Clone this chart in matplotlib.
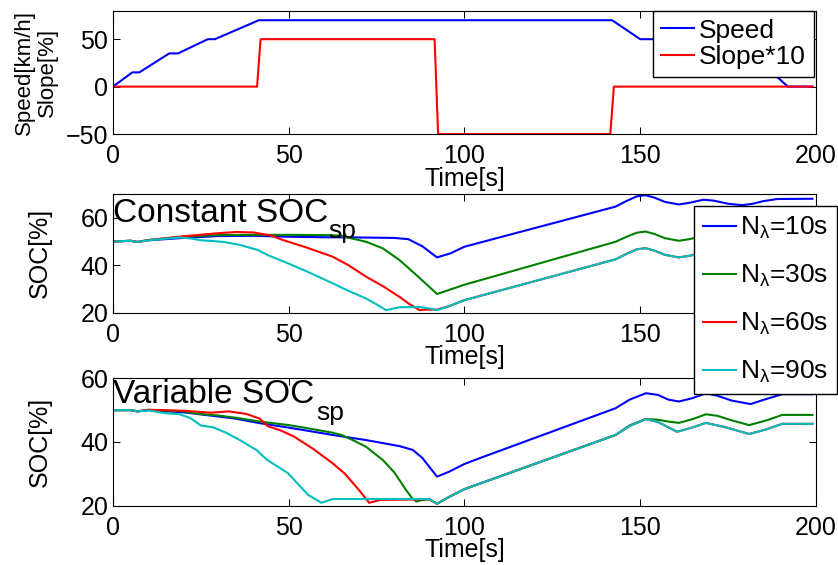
import matplotlib
matplotlib.use('Agg')
import matplotlib.pyplot as plt

plt.rcParams['font.family'] = ['Liberation Sans', 'DejaVu Sans']
plt.rcParams['mathtext.fontset'] = 'custom'
plt.rcParams['mathtext.rm'] = 'Liberation Sans'
plt.rcParams['mathtext.it'] = 'Liberation Sans'
plt.rcParams['mathtext.bf'] = 'Liberation Sans:bold'

# ---- drive cycle ----
t_speed = [0, 5.5, 7.5, 16, 18.5, 27, 29, 41.5, 142, 150, 177, 192, 199]
speed = [0, 15, 15, 35, 35, 50, 50, 70, 70, 50, 50, 0, 0]
t_slope = [0, 41, 42, 91.5, 92.5, 141.5, 142.5, 199]
slope10 = [0, 0, 50, 50, -50, -50, 0, 0]

# ---- constant SOC setpoint ----
t_c10 = [0, 5, 7, 10, 20, 30, 40, 50, 60, 70, 80, 84, 88, 92.2, 96, 100, 143,
         146, 149, 151.5, 154, 157, 161, 164, 168, 171, 175, 179, 182, 185, 189, 199]
soc_c10 = [50, 50.3, 49.8, 50.5, 51.5, 52.3, 52.4, 52, 51.8, 51.7, 51.5, 51, 48, 43.3, 45, 47.8, 64.7,
           67, 69, 69.5, 68.5, 66.7, 65.6, 66.3, 67.6, 67.2, 65.9, 65.3, 65.9, 67, 67.9, 68]
t_c30 = [0, 5, 7, 10, 20, 30, 40, 50, 60, 65, 67.3, 72, 76.8, 81.5, 86.3, 92.2, 96, 100, 143,
         146, 149, 151.5, 154, 157, 161, 164, 168, 171, 175, 179, 182, 185, 189, 199]
soc_c30 = [50, 50.3, 49.8, 50.6, 52, 52.7, 52.8, 52.8, 52.7, 52.5, 51.5, 49.9, 47.1, 42.2, 35.9, 27.9, 29.8, 31.8, 49.9,
           51.9, 53.7, 54.2, 53.2, 51.4, 50.3, 51, 52.3, 51.9, 50.6, 50, 50.6, 51.7, 52.6, 52.7]
t_c60 = [0, 5, 7, 10, 20, 30, 35, 40, 45, 48.4, 55, 62.5, 67, 72, 77, 81.5, 84, 87.2, 89, 92.2, 95.7, 100, 143,
         146, 149, 151.5, 154, 157, 161, 164, 168, 171, 175, 179, 182, 185, 189, 199]
soc_c60 = [50, 50.3, 49.8, 50.6, 52.2, 53.5, 54, 53.8, 52.5, 50.6, 47.5, 43.6, 40, 35.2, 31, 26.7, 24, 21.1, 21.3, 21.3, 22.8, 25.3, 42.5,
           44.7, 46.7, 47.2, 46.2, 44.4, 43.3, 44, 45.3, 44.9, 43.6, 43, 43.6, 44.7, 45.6, 45.7]
t_c90 = [0, 5, 7, 10, 15, 19, 22, 25, 28.5, 32, 36, 41.3, 44, 49.8, 55, 62.5, 67, 72, 75, 77.7, 81.5, 87.2, 90, 92.2, 95.7, 100, 143,
         146, 149, 151.5, 154, 157, 161, 164, 168, 171, 175, 179, 182, 185, 189, 199]
soc_c90 = [50, 50.3, 49.8, 50.5, 51.2, 51.7, 51.3, 50.5, 50.2, 49.7, 48.6, 46.4, 44.3, 40.8, 37.5, 32.4, 29.2, 26, 23.5, 21.1, 22.3, 22.4, 21.8, 21.1, 22.8, 25.3, 42.5,
           44.7, 46.7, 47.2, 46.2, 44.4, 43.3, 44, 45.3, 44.9, 43.6, 43, 43.6, 44.7, 45.6, 45.7]

# ---- variable SOC setpoint ----
t_v10 = [0, 5, 7, 10, 20, 30, 35, 41.8, 50, 55, 62.5, 72, 81.5, 85.3, 88, 92.2, 95.7, 100, 104.3, 143,
         147, 151.6, 155, 158, 161, 165, 168.7, 172, 176, 181.4, 185, 190.4, 199]
soc_v10 = [50, 50, 49.6, 50, 49.3, 48, 47.3, 45.9, 44.5, 43.6, 42.2, 40.6, 38.7, 37.5, 35, 29.1, 30.7, 33.1, 34.9, 50.6,
           53.3, 55.3, 54.8, 53.3, 52.7, 53.8, 55.3, 54.5, 53, 51.9, 53.2, 55, 55]
t_v30 = [0, 5, 7, 10, 20, 24.5, 30, 35, 41.8, 50, 55, 62.5, 65, 68.2, 72, 76.8, 80, 83.4, 85, 86.3, 88, 90, 92.2, 95.7, 100, 143,
         147, 151.6, 155, 158, 161, 165, 168.7, 172, 176, 181, 186, 190.4, 199]
soc_v30 = [50, 50, 49.6, 50.1, 49.6, 48.8, 48.3, 47.6, 46.4, 45.3, 44.4, 42.9, 42.2, 40.6, 38.5, 34.3, 30.5, 24.9, 22.5, 21.3, 21.8, 22, 20.6, 22.8, 25.2, 42.2,
           45.2, 47.2, 47, 46.4, 46, 47.2, 48.7, 48.2, 46.8, 45.3, 46.8, 48.5, 48.5]
t_v60 = [0, 5, 7, 10, 20, 28, 33, 38, 41.8, 44, 48, 51.5, 57, 62.5, 66, 70, 72.9, 76, 90, 92.2, 95.7, 100, 143,
         147, 151.6, 155, 160.5, 165, 168.7, 174, 181, 186, 190.4, 199]
soc_v60 = [50, 50, 49.6, 50.1, 49.8, 49.2, 49.6, 48.8, 47.3, 45, 43.5, 41.7, 37.8, 33.3, 30, 24.9, 20.9, 21.8, 22, 20.6, 22.8, 25.2, 42.2,
           45, 47.2, 46.3, 43.2, 44.6, 46, 44.7, 42.5, 44, 45.7, 45.7]
t_v90 = [0, 5, 7, 10, 15.2, 19, 22, 25, 28.5, 32, 36.1, 40.8, 43.7, 49.8, 55.5, 59.3, 62.5, 90, 92.2, 95.7, 100, 143,
         147, 151.6, 155, 160.5, 165, 168.7, 174, 181, 186, 190.4, 199]
soc_v90 = [50, 50, 49.6, 49.9, 49, 48.7, 47.5, 45.2, 44.6, 43, 40.6, 37.5, 34.5, 30.2, 23.4, 20.9, 22.1, 22.1, 20.6, 22.8, 25.2, 42.2,
           45, 47.2, 46.3, 43.2, 44.6, 46, 44.7, 42.5, 44, 45.7, 45.7]

labels = ['N$_{\\lambda}$=10s', 'N$_{\\lambda}$=30s', 'N$_{\\lambda}$=60s', 'N$_{\\lambda}$=90s']
colors = ['#0000ff', '#008000', '#ff0000', '#00bfbf']

fig = plt.figure(figsize=(8.38, 5.65), dpi=100)
ax1 = fig.add_axes([0.1348, 0.7628, 0.8389, 0.2182])
ax2 = fig.add_axes([0.1348, 0.4465, 0.8389, 0.2101])
ax3 = fig.add_axes([0.1348, 0.1050, 0.8389, 0.2255])
ax2.set_zorder(5)

lw = 1.5
ax1.plot(t_speed, speed, color='#0000ff', lw=lw, label='Speed')
ax1.plot(t_slope, slope10, color='#ff0000', lw=lw, label='Slope*10')
ax1.set_ylim(-50, 80)
ax1.set_yticks([-50, 0, 50])
ax1.set_ylabel('Speed[km/h]\nSlope[%]', fontsize=16, linespacing=1.13)
ax1.yaxis.set_label_coords(-0.078, 0.5)
ax1.legend(loc='upper right', bbox_to_anchor=(814 / 838, 1 - 10.7 / 565), bbox_transform=fig.transFigure,
           fontsize=19, handlelength=1.25, handletextpad=0.2, borderpad=0.3, labelspacing=0.1,
           fancybox=False, framealpha=1, edgecolor='black', borderaxespad=0)

for t, s, c, lab in zip([t_c10, t_c30, t_c60, t_c90], [soc_c10, soc_c30, soc_c60, soc_c90], colors, labels):
    ax2.plot(t, s, color=c, lw=lw, label=lab)
ax2.set_ylim(20, 70)
ax2.set_yticks([20, 40, 60])
leg = ax2.legend(loc='upper right', bbox_to_anchor=(837 / 838, 1 - 206 / 565), bbox_transform=fig.transFigure,
                 fontsize=19, handlelength=1.25, handletextpad=0.12, borderpad=0.35, labelspacing=0.82,
                 fancybox=False, framealpha=1, edgecolor='black', borderaxespad=0)
ax2.text(0.0, 0.767, 'Constant SOC', transform=ax2.transAxes, fontsize=24, va='baseline', ha='left')
ax2.text(0.306, 0.627, 'sp', transform=ax2.transAxes, fontsize=19, va='baseline', ha='left')

for t, s, c in zip([t_v10, t_v30, t_v60, t_v90], [soc_v10, soc_v30, soc_v60, soc_v90], colors):
    ax3.plot(t, s, color=c, lw=lw)
ax3.set_ylim(20, 60)
ax3.set_yticks([20, 40, 60])
ax3.text(0.0, 0.804, 'Variable SOC', transform=ax3.transAxes, fontsize=24, va='baseline', ha='left')
ax3.text(0.289, 0.673, 'sp', transform=ax3.transAxes, fontsize=19, va='baseline', ha='left')

for ax in (ax1, ax2, ax3):
    ax.set_xlim(0, 200)
    ax.set_xticks([0, 50, 100, 150, 200])
    ax.tick_params(direction='in', top=True, right=True, length=5, width=0.75, labelsize=18)
    ax.tick_params(axis='x', pad=7.5)
    ax.tick_params(axis='y', pad=3.4)
    ax.set_xlabel('Time[s]', fontsize=18)
    h_px = ax.get_position().height * 565
    ax.xaxis.set_label_coords(0.5, -32.5 / h_px)
    for sp in ax.spines.values():
        sp.set_linewidth(0.8)
for ax in (ax2, ax3):
    ax.set_ylabel('SOC[%]', fontsize=18)
    ax.yaxis.set_label_coords(-0.0868, 0.5)

fig.savefig('out.png', dpi=100)
